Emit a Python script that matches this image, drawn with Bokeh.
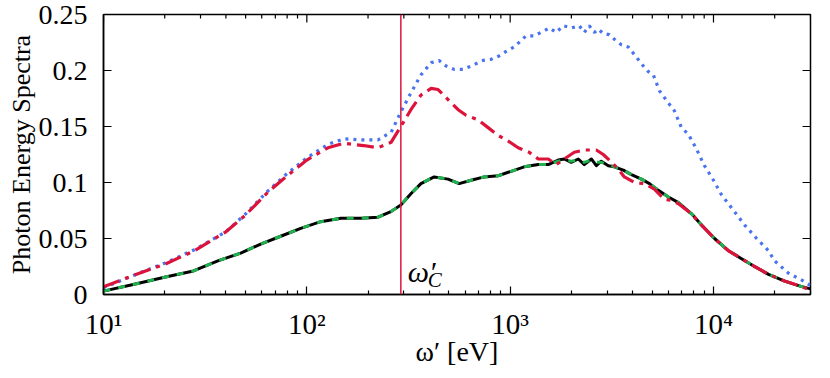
import math
from bokeh.plotting import figure
from bokeh.models import FixedTicker, CustomJSTickFormatter, Span, Range1d, Label
from bokeh.embed import file_html
from bokeh.resources import INLINE

# ---------------- data ----------------
blue_x = [10, 14, 20, 28, 40, 50, 64, 80, 100, 127, 152, 190, 224, 260, 290, 325, 364, 409, 447,
          484, 530, 587, 643, 736, 806, 882, 955, 1046, 1199, 1313, 1454, 1556, 1686, 1825, 1997,
          2187, 2315, 2449, 2593, 2712, 2870, 3074, 3252, 3522, 3810, 4174, 4517, 4783, 5061, 5419,
          6001, 6424, 6955, 7530, 8243, 9026, 10000, 10950, 12680, 14230, 16300, 18660, 19960,
          23400, 27730, 30000]
blue_y = [0.006, 0.017, 0.028, 0.040, 0.056, 0.072, 0.092, 0.108, 0.122, 0.134, 0.139, 0.138, 0.138,
          0.145, 0.163, 0.180, 0.196, 0.207, 0.209, 0.204, 0.201, 0.201, 0.204, 0.209, 0.210, 0.213,
          0.217, 0.221, 0.231, 0.231, 0.235, 0.238, 0.234, 0.240, 0.238, 0.240, 0.234, 0.240, 0.234,
          0.237, 0.233, 0.232, 0.228, 0.223, 0.221, 0.212, 0.204, 0.199, 0.196, 0.182, 0.171, 0.164,
          0.149, 0.143, 0.130, 0.115, 0.102, 0.089, 0.074, 0.062, 0.050, 0.039, 0.030, 0.019, 0.012,
          0.008]

red_x = [10, 14, 20, 28, 40, 50, 64, 80, 100, 127, 152, 190, 224, 260, 290, 325, 364, 409, 442,
         495, 555, 607, 695, 779, 873, 978, 1095, 1240, 1375, 1540, 1686, 1846, 2067, 2315, 2653,
         2870, 3074, 3404, 3645, 4083, 4575, 5120, 5738, 6212, 6727, 7800, 8730, 10120, 11860,
         13740, 15920, 18660, 22390, 27160, 30000]
red_y = [0.007, 0.017, 0.027, 0.039, 0.056, 0.071, 0.091, 0.106, 0.120, 0.131, 0.135, 0.133, 0.131,
         0.136, 0.150, 0.165, 0.178, 0.184, 0.183, 0.174, 0.165, 0.160, 0.156, 0.149, 0.142, 0.137,
         0.131, 0.127, 0.121, 0.121, 0.116, 0.121, 0.127, 0.129, 0.129, 0.125, 0.120, 0.112, 0.105,
         0.100, 0.099, 0.094, 0.085, 0.084, 0.081, 0.072, 0.062, 0.050, 0.039, 0.032, 0.025, 0.018,
         0.012, 0.007, 0.004]

black_x = [10, 14, 20.7, 27.7, 36.5, 47.3, 59.3, 74.4, 93.3, 117, 147, 185, 224, 259, 290, 325, 364,
           423, 495, 561, 643, 745, 873, 1011, 1172, 1375, 1540, 1723, 1846, 1997, 2163, 2315, 2508,
           2653, 2806, 3040, 3252, 3604, 3948, 4420, 4842, 5358, 6001, 6727, 7800, 8730, 10120,
           11860, 13740, 15920, 18660, 22390, 27160, 30000]
black_y = [0.003, 0.009, 0.016, 0.021, 0.030, 0.037, 0.045, 0.052, 0.059, 0.065, 0.068, 0.068, 0.069,
           0.074, 0.080, 0.090, 0.099, 0.105, 0.103, 0.099, 0.102, 0.105, 0.106, 0.110, 0.114, 0.116,
           0.116, 0.120, 0.121, 0.118, 0.121, 0.116, 0.121, 0.115, 0.119, 0.115, 0.114, 0.111, 0.107,
           0.103, 0.099, 0.093, 0.087, 0.082, 0.072, 0.062, 0.050, 0.039, 0.032, 0.025, 0.018, 0.012,
           0.007, 0.005]

green_x = black_x
green_y = [0.003, 0.009, 0.016, 0.021, 0.030, 0.037, 0.045, 0.052, 0.059, 0.065, 0.068, 0.068, 0.069,
           0.074, 0.080, 0.090, 0.099, 0.105, 0.103, 0.099, 0.102, 0.105, 0.106, 0.110, 0.114, 0.116,
           0.116, 0.119, 0.120, 0.119, 0.120, 0.118, 0.120, 0.118, 0.118, 0.116, 0.114, 0.111, 0.107,
           0.103, 0.099, 0.093, 0.087, 0.082, 0.072, 0.062, 0.050, 0.039, 0.032, 0.025, 0.018, 0.012,
           0.007, 0.005]

omega_c = 290

x_min, x_max = 10, 30000
y_min, y_max = 0, 0.25
x_ticks = [10, 100, 1000, 10000]
x_tick_labels = ["10¹", "10²", "10³", "10⁴"]
y_ticks = [0, 0.05, 0.1, 0.15, 0.2, 0.25]
y_tick_labels = ["0", "0.05", "0.1", "0.15", "0.2", "0.25"]
x_title = "ω′ [eV]"
y_title = "Photon Energy Spectra"

FONT = "Liberation Serif"
BLUE = "#4a73f0"
RED = "#dc143c"
GREEN = "#1fb24e"

# ---------------- figure ----------------
p = figure(width=830, height=378, x_axis_type="log",
           x_range=Range1d(x_min, x_max), y_range=Range1d(y_min, y_max),
           output_backend="svg", toolbar_location=None,
           min_border_left=103, min_border_right=20, min_border_top=14, min_border_bottom=84)
p.background_fill_color = "white"
p.border_fill_color = "white"
p.outline_line_color = "black"
p.outline_line_width = 1.5
p.xgrid.visible = False
p.ygrid.visible = False

x_minor = [d * 10 ** k for k in range(1, 5) for d in range(2, 10) if d * 10 ** k <= x_max]

xfmt = CustomJSTickFormatter(args=dict(tvals=x_ticks, tlabels=x_tick_labels), code="""
const i = tvals.findIndex(t => Math.abs(Math.log10(t) - Math.log10(tick)) < 1e-6);
return i >= 0 ? tlabels[i] : "";
""")
yfmt = CustomJSTickFormatter(args=dict(tvals=y_ticks, tlabels=y_tick_labels), code="""
const i = tvals.findIndex(t => Math.abs(t - tick) < 1e-9);
return i >= 0 ? tlabels[i] : "";
""")

def style_axis(ax):
    ax.axis_line_color = "black"
    ax.axis_line_width = 1.5
    ax.major_tick_line_color = "black"
    ax.minor_tick_line_color = "black"
    ax.major_tick_line_width = 1.2
    ax.minor_tick_line_width = 1.2
    ax.major_tick_in = 8
    ax.major_tick_out = 0
    ax.minor_tick_in = 4
    ax.minor_tick_out = 0

xa = p.xaxis[0]
xa.ticker = FixedTicker(ticks=x_ticks, minor_ticks=x_minor)
xa.formatter = xfmt
style_axis(xa)
xa.major_label_text_font = FONT
xa.major_label_text_font_size = "29px"
xa.major_label_text_color = "black"
xa.major_label_standoff = 13
xa.axis_label = x_title
xa.axis_label_text_font = FONT
xa.axis_label_text_font_size = "28px"
xa.axis_label_text_font_style = "normal"
xa.axis_label_text_color = "black"
xa.axis_label_standoff = -7

ya = p.yaxis[0]
ya.ticker = FixedTicker(ticks=y_ticks, minor_ticks=[])
ya.formatter = yfmt
style_axis(ya)
ya.major_label_text_font = FONT
ya.major_label_text_font_size = "28px"
ya.major_label_text_color = "black"
ya.major_label_standoff = 16
ya.axis_label = y_title
ya.axis_label_text_font = FONT
ya.axis_label_text_font_size = "26px"
ya.axis_label_text_font_style = "normal"
ya.axis_label_text_color = "black"
ya.axis_label_standoff = 0

# mirrored ticks on the top and right edges of the frame (inward)
n_x, n_xm, n_y = len(x_ticks), len(x_minor), len(y_ticks)
p.ray(x=x_ticks, y=[y_max] * n_x, length=8, length_units="screen", angle=-math.pi / 2,
      line_color="black", line_width=1.2)
p.ray(x=x_minor, y=[y_max] * n_xm, length=4, length_units="screen", angle=-math.pi / 2,
      line_color="black", line_width=1.2)
p.ray(x=[x_max] * n_y, y=y_ticks, length=8, length_units="screen", angle=math.pi,
      line_color="black", line_width=1.2)

# ---------------- curves ----------------
p.line(blue_x, blue_y, line_color=BLUE, line_width=3.2, line_dash="3 5")
p.line(black_x, black_y, line_color="black", line_width=3, line_join="round")
p.line(green_x, green_y, line_color=GREEN, line_width=3, line_dash="7 8", line_join="round")
p.line(red_x, red_y, line_color=RED, line_width=3.2, line_dash="17 6 4 6", line_join="round")

p.add_layout(Span(location=omega_c, dimension="height", line_color=RED, line_width=1.5))

# omega'_C annotation
p.add_layout(Label(x=omega_c, y=y_min, x_offset=7, y_offset=23, text="ω′",
                   text_font=FONT, text_font_style="italic", text_font_size="30px",
                   text_color="black", text_baseline="alphabetic"))
p.add_layout(Label(x=omega_c, y=y_min, x_offset=27, y_offset=15, text="C",
                   text_font=FONT, text_font_style="italic", text_font_size="21px",
                   text_color="black", text_baseline="alphabetic"))

open("out.html", "w").write(file_html(p, INLINE))
